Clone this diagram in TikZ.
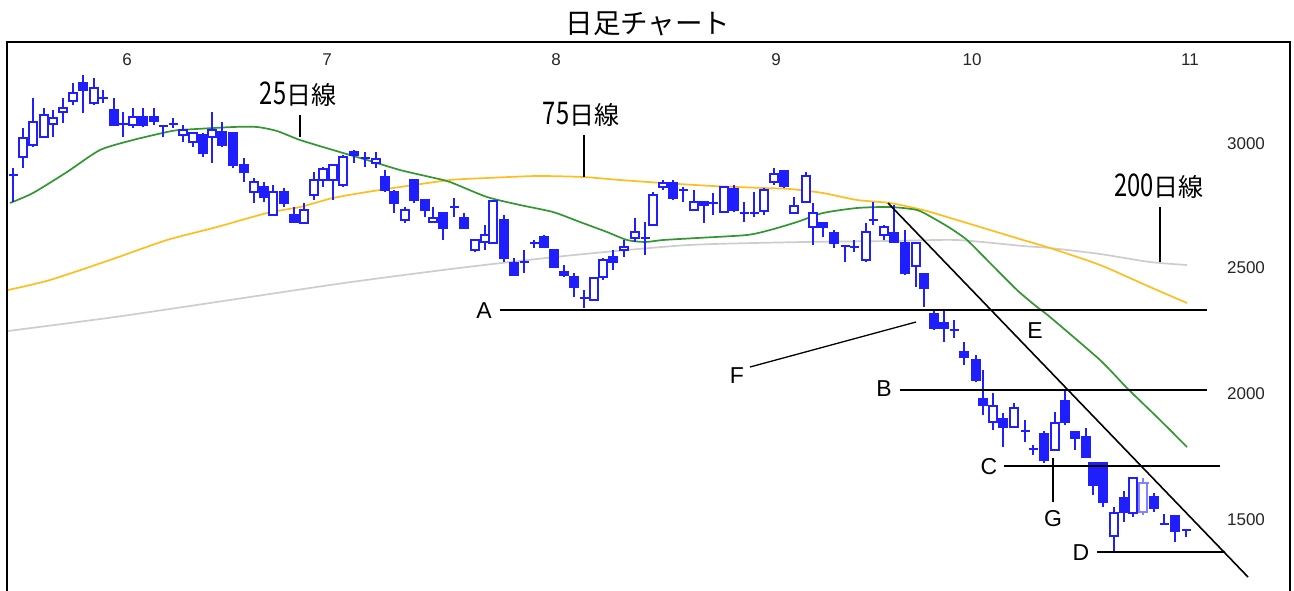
\documentclass[tikz,border=0pt]{standalone}
\usepackage{fontspec}
\setmainfont{Liberation Sans}
\newfontfamily\jp{Noto Sans CJK JP}
\definecolor{cblue}{RGB}{30,30,255}
\definecolor{mgreen}{RGB}{50,150,50}
\definecolor{morange}{RGB}{255,190,30}
\definecolor{mgray}{RGB}{205,205,205}
\newcommand{\tdig}[1]{\scalebox{0.95}[1.25]{#1}}
\begin{document}
\begin{tikzpicture}[x=1pt,y=-1pt,
  wick/.style={cblue,line width=1.8},
  body/.style={draw=cblue,line width=1.5},
  ma/.style={line width=1.7},
  ann/.style={black,line width=1.6},
  lbl/.style={font=\fontsize{23}{23}\selectfont,inner sep=0pt},
  axl/.style={font=\fontsize{17}{17}\selectfont,inner sep=0pt,black!85},
  jlbl/.style={font=\jp\fontsize{25}{25}\selectfont,inner sep=0pt}]
\useasboundingbox (0,0) rectangle (1294,590);
\fill[white] (0,0) rectangle (1294,590);
% title and frame
\node[font=\jp\fontsize{27.5}{27.5}\selectfont,inner sep=0pt] (title) at (648,24) {日足チャート};
\draw[line width=2] (7,594) -- (7,42) -- (1290,42) -- (1290,594);
% axis labels
\foreach \m/\x in {6/127,7/327,8/556,9/776,10/972,11/1190}
  \node[axl] (m\m) at (\x,60) {\m};
\foreach \p/\y in {3000/144,2500/268,2000/394,1500/520}
  \node[axl] (p\p) at (1246,\y) {\p};
% moving averages
\draw[ma,mgray] plot[smooth,tension=0.4] coordinates {(8,331) (115,317) (230,300) (344,283) (459,268) (574,255) (689,245) (804,242) (890,241) (957,240) (1023,246) (1050,248) (1100,254) (1150,262) (1187,265)};
\draw[ma,morange] plot[smooth,tension=0.4] coordinates {(8,290) (50,280) (110,260) (167,240) (217,227) (267,213) (300,207) (333,198) (367,192) (400,187) (450,180) (487,178) (537,176) (583,177) (620,180) (663,183) (713,186) (763,188) (790,189) (823,193) (857,200) (890,203) (923,210) (957,220) (990,230) (1023,240) (1050,248) (1100,265) (1150,287) (1187,303)};
\draw[ma,mgreen] plot[smooth,tension=0.4] coordinates {(10,203) (33,193) (67,172) (100,150) (133,140) (167,132) (180,130) (233,127) (257,127) (277,131) (300,140) (333,150) (367,160) (400,170) (430,177) (450,182) (487,197) (520,205) (553,212) (580,222) (607,232) (627,240) (645,242) (663,240) (697,238) (747,235) (770,230) (797,222) (823,213) (857,208) (890,207) (917,210) (933,218) (950,228) (967,240) (990,263) (1017,290) (1037,307) (1050,317) (1100,360) (1127,388) (1160,420) (1187,447)};
% filled candles: x/top/bottom/high/low
\foreach \x/\a/\b/\h/\l in {83/83/90/75/113, 114/110/125/98/125, 143/117/125/108/127, 154/117/121/108/125,
  203/135/153/133/157, 222/132/145/122/147, 233/133/165/133/168, 244/165/172/158/182, 264/187/197/182/202,
  284/192/203/188/207, 294/215/222/207/223, 354/152/155/150/163, 385/177/190/170/192, 394/192/203/190/213,
  414/180/200/180/203, 425/200/210/200/217, 443/213/228/213/240, 464/218/228/213/228, 504/220/258/215/262,
  514/263/275/258/275, 544/237/247/235/247, 554/250/267/250/267, 564/272/275/265/277, 574/277/287/273/297,
  613/257/262/250/270, 673/183/198/180/200, 704/202/205/202/223, 734/189/210/185/212, 784/171/186/170/188,
  823/223/227/223/237, 834/233/243/230/248, 894/233/242/205/242, 905/243/273/230/275, 924/274/288/274/307,
  934/314/328/310/330, 944/323/328/310/342, 964/352/357/342/365, 976/360/380/355/382, 983/399/405/370/415,
  1003/419/427/413/447, 1044/434/460/431/463, 1065/401/422/391/425, 1075/432/438/432/450, 1086/437/457/428/457,
  1093/463/485/463/495, 1103/463/502/463/507, 1124/498/512/491/522, 1154/497/508/493/512, 1175/516/531/516/542}
{
  \draw[wick] (\x,\h) -- (\x,\l);
  \filldraw[body,fill=cblue] (\x-4,\a) rectangle (\x+4,\b);
}
% hollow candles
\foreach \x/\a/\b/\h/\l in {23/138/157/128/168, 33/122/145/98/147, 44/115/137/108/138, 53/118/124/110/137,
  63/108/112/98/123, 73/93/101/83/105, 94/88/103/78/105, 133/117/125/108/128, 183/130/135/125/142,
  193/133/142/132/147, 212/130/137/112/163, 254/182/192/178/203, 273/192/215/185/215, 304/210/223/203/223,
  314/180/195/172/200, 323/169/180/167/187, 333/165/180/165/200, 343/157/185/155/187, 376/159/163/152/168,
  405/210/220/207/223, 433/218/222/207/222, 475/240/250/240/252, 485/235/242/225/250, 493/201/243/201/243,
  594/278/300/278/300, 603/260/277/258/280, 624/247/250/240/257, 635/232/238/218/242, 653/195/225/192/225,
  663/183/187/180/190, 694/202/210/190/210, 724/187/212/187/212, 764/190/211/188/215, 774/174/182/168/185,
  794/206/213/197/213, 806/176/202/172/202, 813/213/227/203/245, 866/232/260/223/262, 884/227/235/225/240,
  916/243/266/243/287, 993/406/422/393/430, 1014/408/427/403/428, 1055/423/450/412/450, 1114/513/536/507/553,
  1133/478/513/477/517}
{
  \draw[wick] (\x,\h) -- (\x,\l);
  \filldraw[body,fill=white] (\x-4,\a) rectangle (\x+4,\b);
}
% pale hollow candle
\draw[wick,cblue!55] (1143,478) -- (1143,515);
\filldraw[body,draw=cblue!55,fill=white] (1139,483) rectangle (1147,512);
\draw[wick,cblue!55] (1139,483) -- (1149,483);
% doji: x/y/high/low
\foreach \x/\y/\h/\l in {13/175/168/202, 103/98/90/103, 123/124/112/137, 163/126/125/137, 173/124/118/128,
  365/158/152/167, 454/207/198/217, 524/262/250/273, 534/243/240/248, 584/298/290/308, 645/238/222/255,
  683/190/187/202, 713/203/193/215, 744/213/202/222, 754/213/192/217, 845/246/245/262, 854/247/240/252,
  873/220/202/225, 954/330/320/338, 1025/431/420/442, 1033/449/445/455, 1164/524/514/525, 1186/530/530/537}
{
  \draw[wick] (\x,\h) -- (\x,\l);
  \draw[wick] (\x-4.5,\y) -- (\x+4.5,\y);
}
% moving average labels
\node[jlbl] (t25) at (298,94) {\tdig{25}日線};
\coordinate (t25a) at (300,115); \coordinate (t25b) at (300,137);
\draw[line width=1.3] (t25a) -- (t25b);
\node[jlbl] (t75) at (581,114) {\tdig{75}日線};
\coordinate (t75a) at (584,135); \coordinate (t75b) at (584,177);
\draw[line width=1.3] (t75a) -- (t75b);
\node[jlbl] (t200) at (1159,186) {\tdig{200}日線};
\coordinate (t200a) at (1160,207); \coordinate (t200b) at (1160,262);
\draw[line width=1.3] (t200a) -- (t200b);
% annotation lines
\node[lbl] (A) at (484,311) {A};
\coordinate (As) at (500,310); \coordinate (Ae) at (1207,310);
\draw[ann] (As) -- (Ae);
\node[lbl] (B) at (884,389) {B};
\coordinate (Bs) at (900,390); \coordinate (Be) at (1207,390);
\draw[ann] (Bs) -- (Be);
\node[lbl] (C) at (989,467) {C};
\coordinate (Cs) at (1004,466); \coordinate (Ce) at (1220,466);
\draw[ann] (Cs) -- (Ce);
\node[lbl] (D) at (1081,553) {D};
\coordinate (Ds) at (1097,552); \coordinate (De) at (1225,552);
\draw[ann] (Ds) -- (De);
\coordinate (Ts) at (888,203); \coordinate (Te) at (1248,577);
\draw[ann] (Ts) -- (Te);
\node[lbl] (E) at (1035,331) {E};
\node[lbl] (F) at (737,376) {F};
\coordinate (Fs) at (750,367); \coordinate (Fe) at (916,322);
\draw[ann,line width=1.3] (Fs) -- (Fe);
\node[lbl] (G) at (1053,519) {G};
\coordinate (Gs) at (1053,458); \coordinate (Ge) at (1053,502);
\draw[ann,line width=1.3] (Gs) -- (Ge);
\end{tikzpicture}
\end{document}
